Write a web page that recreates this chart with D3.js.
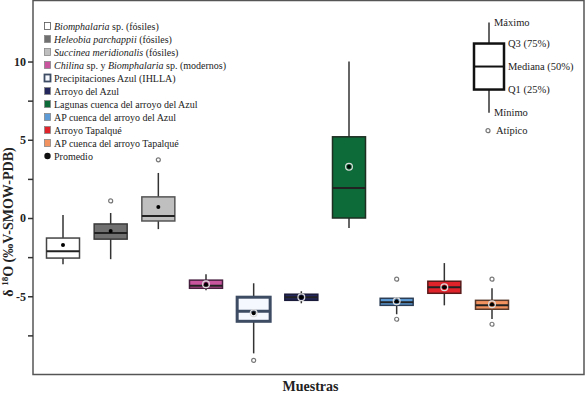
<!DOCTYPE html>
<html>
<head>
<meta charset="utf-8">
<script src="https://cdn.jsdelivr.net/npm/d3@7"></script>
<style>
  body { margin: 0; background: #fff; }
  svg { display: block; }
</style>
</head>
<body>
<div id="chart"></div>
<script>
// Datos de δ18O por grupo de muestras
var categories = ['Biomphalaria', 'Heleobia', 'Succinea', 'Chilina', 'Precipitaciones',
    'ArroyoAzul', 'Lagunas', 'APAzul', 'ArroyoTapalque', 'APTapalque'];
var whiskerMax = [0.19, 0.32, 2.88, -3.59, -4.17, -4.68, 10.0, -5.06, -2.88, -4.49];
var q3Values   = [-1.28, -0.38, 1.35, -3.97, -5.06, -4.87, 5.19, -5.13, -4.04, -5.26];
var medians    = [-2.12, -0.96, 0.13, -4.33, -5.96, -5.06, 1.92, -5.38, -4.42, -5.58];
var q1Values   = [-2.56, -1.35, -0.19, -4.49, -6.60, -5.26, 0.0, -5.58, -4.81, -5.83];
var whiskerMin = [-2.95, -2.63, -0.71, -4.62, -8.65, -5.45, -0.64, -6.15, -5.58, -6.45];
var means      = [-1.73, -0.83, 0.71, -4.23, -6.09, -5.06, 3.27, -5.32, -4.42, -5.51];
var outliers   = [[], [1.09], [3.72], [], [-9.10], [], [], [-3.91, -6.47], [], [-3.91, -6.79]];

var fills   = ['#ffffff', '#707070', '#bfbfbf', '#c9559f', '#f6f8ff', '#24275c', '#0c6b38', '#5d9bd6', '#e0222b', '#f2925f'];
var strokes = ['#444', '#3a3a3a', '#555', '#4a2040', '#3d4b63', '#1a1a3a', '#1f2f22', '#2c3e55', '#5a1a1a', '#5a3a2a'];

var legendLabels = [
    [['Biomphalaria', true], [' sp. (fósiles)', false]],
    [['Heleobia parchappii', true], [' (fósiles)', false]],
    [['Succinea meridionalis', true], [' (fósiles)', false]],
    [['Chilina', true], [' sp. y ', false], ['Biomphalaria', true], [' sp. (modernos)', false]],
    [['Precipitaciones Azul (IHLLA)', false]],
    [['Arroyo del Azul', false]],
    [['Lagunas cuenca del arroyo del Azul', false]],
    [['AP cuenca del arroyo del Azul', false]],
    [['Arroyo Tapalqué', false]],
    [['AP cuenca del arroyo Tapalqué', false]]
];

var tickValues = [-7.5, -5, -2.5, 0, 2.5, 5, 7.5, 10];

// Caja de referencia (Máximo, Q3, Mediana, Q1, Mínimo, Atípico)
var keyLabels = ['Máximo', 'Q3 (75%)', 'Mediana (50%)', 'Q1 (25%)', 'Mínimo', 'Atípico'];
var keyValues = [12.5, 11.15, 9.68, 8.21, 6.73, 5.58];

var width = 586, height = 397;
var margin = { top: 0.5, right: 2, bottom: 22.5, left: 33 };
var plotW = width - margin.left - margin.right;
var plotH = height - margin.top - margin.bottom;
var serif = '"Liberation Serif", "Times New Roman", Times, serif';

var svg = d3.select('#chart').append('svg')
    .attr('width', width)
    .attr('height', height)
    .attr('font-family', serif);

var g = svg.append('g').attr('transform', 'translate(' + margin.left + ',' + margin.top + ')');

var y = d3.scaleLinear().domain([-10, 13.9]).range([plotH, 0]);
var x = d3.scalePoint().domain(categories).range([30, plotW - 92]);
var boxW = 33;

// marco
g.append('rect')
    .attr('x', 0).attr('y', 0)
    .attr('width', plotW).attr('height', plotH)
    .attr('fill', 'none')
    .attr('stroke', '#555')
    .attr('stroke-width', 1.5);

// eje Y
var yAxis = d3.axisLeft(y)
    .tickValues(tickValues)
    .tickSize(5)
    .tickPadding(2)
    .tickFormat(function(d) { return d % 5 === 0 ? String(d) : ''; });

var axisG = g.append('g').call(yAxis).attr('font-family', serif);
axisG.select('.domain').remove();
axisG.selectAll('line').attr('stroke', '#333').attr('stroke-width', 1.5);
axisG.selectAll('text')
    .attr('font-family', serif)
    .attr('font-weight', 'bold')
    .attr('font-size', '12px')
    .attr('fill', '#222');

// título eje Y
var yTitle = svg.append('text')
    .attr('transform', 'translate(13,' + 222 + ') rotate(-90)')
    .attr('text-anchor', 'middle')
    .attr('font-family', serif)
    .attr('font-weight', 'bold')
    .attr('font-size', '14px')
    .attr('fill', '#222');
yTitle.append('tspan').text('δ ');
yTitle.append('tspan').attr('font-size', '9px').attr('dy', -5).text('18');
yTitle.append('tspan').attr('dy', 5).text('O (‰V-SMOW-PDB)');

// título eje X
svg.append('text')
    .attr('x', margin.left + plotW / 2 + 2)
    .attr('y', 391)
    .attr('text-anchor', 'middle')
    .attr('font-family', serif)
    .attr('font-weight', 'bold')
    .attr('font-size', '14px')
    .attr('fill', '#222')
    .text('Muestras');

// cajas
var boxes = g.selectAll('.box')
    .data(categories)
    .enter().append('g')
    .attr('class', 'box')
    .attr('transform', function(d) { return 'translate(' + x(d) + ',0)'; });

boxes.append('line')
    .attr('x1', 0).attr('x2', 0)
    .attr('y1', function(d, i) { return y(whiskerMax[i]); })
    .attr('y2', function(d, i) { return y(whiskerMin[i]); })
    .attr('stroke', '#333')
    .attr('stroke-width', 1.5);

boxes.append('rect')
    .attr('x', -boxW / 2)
    .attr('width', boxW)
    .attr('y', function(d, i) { return y(q3Values[i]); })
    .attr('height', function(d, i) { return y(q1Values[i]) - y(q3Values[i]); })
    .attr('fill', function(d, i) { return fills[i]; })
    .attr('stroke', function(d, i) { return strokes[i]; })
    .attr('stroke-width', function(d, i) { return i === 4 ? 3 : 1.5; });

boxes.append('line')
    .attr('x1', -boxW / 2).attr('x2', boxW / 2)
    .attr('y1', function(d, i) { return y(medians[i]); })
    .attr('y2', function(d, i) { return y(medians[i]); })
    .attr('stroke', function(d, i) { return i === 4 ? '#3d4b63' : '#222'; })
    .attr('stroke-width', function(d, i) { return i === 4 ? 3 : 2; });

boxes.each(function(d, i) {
    d3.select(this).selectAll('.out')
        .data(outliers[i])
        .enter().append('circle')
        .attr('class', 'out')
        .attr('cx', 0)
        .attr('cy', function(v) { return y(v); })
        .attr('r', 2)
        .attr('fill', '#fff')
        .attr('stroke', '#777')
        .attr('stroke-width', 1.2);
});

// promedio
boxes.append('circle')
    .attr('cx', 0)
    .attr('cy', function(d, i) { return y(means[i]); })
    .attr('r', 3.4)
    .attr('fill', 'none')
    .attr('stroke', function(d, i) { return i < 3 ? 'none' : '#ddd'; })
    .attr('stroke-width', 1.2);

boxes.append('circle')
    .attr('cx', 0)
    .attr('cy', function(d, i) { return y(means[i]); })
    .attr('r', 2)
    .attr('fill', '#000');

// caja de referencia
var kx = x(categories[categories.length - 1]) - 3;
var kw = 30;
var key = g.append('g').attr('transform', 'translate(' + kx + ',0)');
key.append('line')
    .attr('x1', 0).attr('x2', 0)
    .attr('y1', y(keyValues[0])).attr('y2', y(keyValues[4]))
    .attr('stroke', '#333').attr('stroke-width', 1.5);
key.append('rect')
    .attr('x', -kw / 2).attr('width', kw)
    .attr('y', y(keyValues[1]))
    .attr('height', y(keyValues[3]) - y(keyValues[1]))
    .attr('fill', '#fff')
    .attr('stroke', '#111')
    .attr('stroke-width', 2.5);
key.append('line')
    .attr('x1', -kw / 2).attr('x2', kw / 2)
    .attr('y1', y(keyValues[2])).attr('y2', y(keyValues[2]))
    .attr('stroke', '#111').attr('stroke-width', 2);
key.append('circle')
    .attr('cx', -1).attr('cy', y(keyValues[5]))
    .attr('r', 2).attr('fill', '#fff')
    .attr('stroke', '#777').attr('stroke-width', 1.2);

var keyDx = [5, kw / 2 + 4, kw / 2 + 4, kw / 2 + 4, 5, 7];
key.selectAll('.klab')
    .data(keyLabels)
    .enter().append('text')
    .attr('class', 'klab')
    .attr('x', function(d, i) { return keyDx[i]; })
    .attr('y', function(d, i) { return y(keyValues[i]); })
    .attr('dy', '0.35em')
    .attr('font-family', serif)
    .attr('font-size', '10.5px')
    .attr('fill', '#222')
    .text(function(d) { return d; });

// leyenda
var legend = svg.append('g').attr('transform', 'translate(44,26)');
var rowH = 13;

var rows = legend.selectAll('.row')
    .data(legendLabels)
    .enter().append('g')
    .attr('class', 'row')
    .attr('transform', function(d, i) { return 'translate(0,' + (i * rowH) + ')'; });

rows.append('rect')
    .attr('x', 0.5).attr('y', -3.5)
    .attr('width', 6).attr('height', 7)
    .attr('fill', function(d, i) { return fills[i]; })
    .attr('stroke', function(d, i) { return i === 4 ? '#3d4b63' : (i === 0 ? '#555' : '#888'); })
    .attr('stroke-width', function(d, i) { return i === 4 ? 1.8 : 0.8; });

rows.append('text')
    .attr('x', 10)
    .attr('y', 0)
    .attr('dy', '0.35em')
    .attr('font-family', serif)
    .attr('font-size', '10px')
    .attr('fill', '#222')
    .each(function(parts) {
        var t = d3.select(this);
        parts.forEach(function(p) {
            t.append('tspan')
                .attr('font-style', p[1] ? 'italic' : null)
                .text(p[0]);
        });
    });

var promRow = legend.append('g').attr('transform', 'translate(0,' + (legendLabels.length * rowH) + ')');
promRow.append('circle').attr('cx', 3.5).attr('cy', 0).attr('r', 3.2).attr('fill', '#111');
promRow.append('text')
    .attr('x', 10).attr('y', 0).attr('dy', '0.35em')
    .attr('font-family', serif)
    .attr('font-size', '10px').attr('fill', '#222')
    .text('Promedio');
</script>
</body>
</html>
